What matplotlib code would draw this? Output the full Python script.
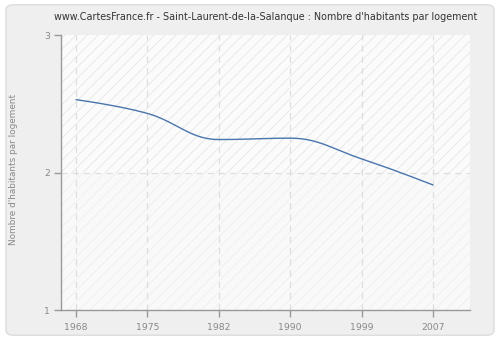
import numpy as np
import matplotlib
matplotlib.use("Agg")
import matplotlib.pyplot as plt
from matplotlib.patches import FancyBboxPatch, Rectangle

years = ["1968", "1975", "1982", "1990", "1999", "2007"]
habitants_par_logement = [2.53, 2.43, 2.24, 2.25, 2.10, 1.91]
y_ticks = [1, 2, 3]

title = "www.CartesFrance.fr - Saint-Laurent-de-la-Salanque : Nombre d'habitants par logement"
ylabel = "Nombre d'habitants par logement"


def spline_path(x, y, smoothing=1.5, n=40):
    """Bezier spline through the points, with control points clamped at extrema."""
    x = np.asarray(x, float)
    y = np.asarray(y, float)
    cnt = len(x)
    denom = smoothing + 1
    left = [None] * cnt
    right = [None] * cnt
    for i in range(1, cnt - 1):
        lx = (smoothing * x[i] + x[i - 1]) / denom
        ly = (smoothing * y[i] + y[i - 1]) / denom
        rx = (smoothing * x[i] + x[i + 1]) / denom
        ry = (smoothing * y[i] + y[i + 1]) / denom
        corr = (ry - ly) * (rx - x[i]) / (rx - lx) + y[i] - ry
        ly += corr
        ry += corr
        if ly > y[i - 1] and ly > y[i]:
            ly = max(y[i - 1], y[i]); ry = 2 * y[i] - ly
        elif ly < y[i - 1] and ly < y[i]:
            ly = min(y[i - 1], y[i]); ry = 2 * y[i] - ly
        if ry > y[i + 1] and ry > y[i]:
            ry = max(y[i + 1], y[i]); ly = 2 * y[i] - ry
        elif ry < y[i + 1] and ry < y[i]:
            ry = min(y[i + 1], y[i]); ly = 2 * y[i] - ry
        left[i] = (lx, ly)
        right[i] = (rx, ry)
    left[-1] = (x[-1], y[-1])
    right[0] = (x[0], y[0])
    xs, ys = [], []
    t = np.linspace(0, 1, n)[:, None]
    for i in range(1, cnt):
        p0 = np.array([x[i - 1], y[i - 1]])
        p1 = np.array(right[i - 1])
        p2 = np.array(left[i])
        p3 = np.array([x[i], y[i]])
        b = ((1 - t) ** 3) * p0 + 3 * ((1 - t) ** 2) * t * p1 + 3 * (1 - t) * t**2 * p2 + t**3 * p3
        xs.append(b[:, 0])
        ys.append(b[:, 1])
    return np.concatenate(xs), np.concatenate(ys)


plt.rcParams["hatch.linewidth"] = 0.6

fig = plt.figure(figsize=(5.0, 3.4), dpi=100)
fig.patch.set_facecolor("white")

# rounded outer panel
panel = FancyBboxPatch((0.012, 0.014), 0.976, 0.972,
                       boxstyle="round,pad=0,rounding_size=0.015",
                       transform=fig.transFigure, facecolor="#efefef",
                       edgecolor="#dcdcdc", linewidth=1.0, zorder=-5)
fig.patches.append(panel)

ax = fig.add_axes([0.122, 0.088, 0.818, 0.809])
ax.set_zorder(1)
ax.set_facecolor("#fcfcfc")

pos = np.arange(len(years))
xmin, xmax = -0.21, 5.52
ax.set_xlim(xmin, xmax)
ax.set_ylim(1, 3)

# hatched background, a touch darker above the middle line
ax.add_patch(Rectangle((xmin, 2), xmax - xmin, 1, facecolor="#fbfbfb",
                       edgecolor="#e6e6e6", hatch="///", linewidth=0, zorder=0))
ax.add_patch(Rectangle((xmin, 1), xmax - xmin, 1, facecolor="#f9f9f9",
                       edgecolor="#efefef", hatch="///", linewidth=0, zorder=0))

for p in pos:
    ax.axvline(p, color="#dedede", linestyle=(0, (5, 4)), linewidth=0.9, zorder=1)
ax.axhline(2, color="#dedede", linestyle=(0, (5, 4)), linewidth=0.9, zorder=1)

sx, sy = spline_path(pos, habitants_par_logement)
ax.plot(sx, sy, color="#4a75ad", linewidth=1.0, zorder=3, solid_capstyle="round")

ax.set_xticks(pos)
ax.set_xticklabels(years)
ax.set_yticks(y_ticks)
ax.set_yticklabels([str(v) for v in y_ticks])

for side in ("top", "right"):
    ax.spines[side].set_visible(False)
for side in ("left", "bottom"):
    ax.spines[side].set_color("#999999")
    ax.spines[side].set_linewidth(1.0)

ax.tick_params(axis="both", colors="#999999", labelcolor="#888888",
               labelsize=6.7, length=5, width=1.0, direction="out")
ax.tick_params(axis="x", pad=4)
ax.tick_params(axis="y", pad=3)

fig.text(0.532, 0.95, title, ha="center", va="center", fontsize=6.9, color="#333333")
fig.text(0.028, 0.503, ylabel, ha="center", va="center", rotation=90,
         fontsize=6.4, color="#888888")

fig.savefig("out.png", dpi=100, facecolor=fig.get_facecolor())
